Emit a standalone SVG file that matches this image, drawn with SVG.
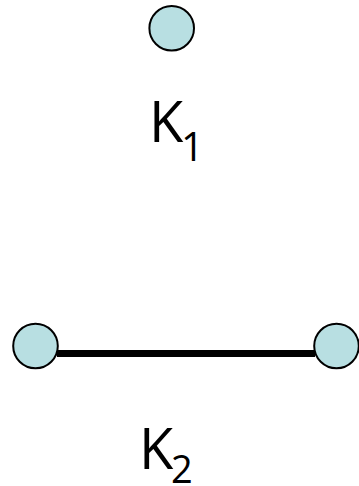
<svg xmlns="http://www.w3.org/2000/svg" width="359" height="486" viewBox="0 0 359 486">
<style>
.v{fill:#b8dfe2;stroke:#000;stroke-width:2}
.e{stroke:#000;stroke-width:7;fill:none}
.t{font-family:"Open Sans","Liberation Sans",sans-serif;fill:#000}
</style>
<rect width="359" height="486" fill="#fff"/>
<g id="edges">
<line class="e" x1="57" y1="353.5" x2="315" y2="353.5"/>
</g>
<g id="k1-v1"><circle class="v" cx="171.7" cy="28.3" r="22.3"/></g>
<g id="k2-v1"><circle class="v" cx="35.5" cy="346" r="22.3"/></g>
<g id="k2-v2"><circle class="v" cx="336.5" cy="346" r="22.3"/></g>
<g id="label-k1">
<text class="t" x="149" y="142" font-size="56">K</text>
<text class="t" x="181" y="161" font-size="40">1</text>
</g>
<g id="label-k2">
<text class="t" x="139" y="468.5" font-size="56">K</text>
<text class="t" x="171" y="483" font-size="38">2</text>
</g>
</svg>
